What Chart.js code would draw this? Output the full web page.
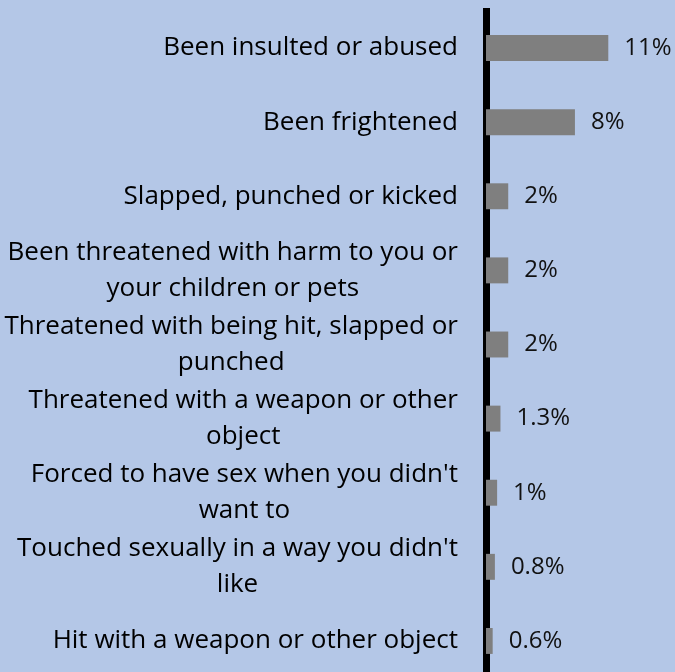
<!DOCTYPE html>
<html>
<head>
<meta charset="utf-8">
<script src="https://cdn.jsdelivr.net/npm/chart.js@4"></script>
<style>
  html, body { margin: 0; padding: 0; background: #b4c7e7; overflow: hidden; }
  canvas { display: block; }
</style>
</head>
<body>
<canvas id="chart" width="675" height="678"></canvas>
<script>
"use strict";

const categories = [
    ['Been insulted or abused'],
    ['Been frightened'],
    ['Slapped, punched or kicked'],
    ['Been threatened with harm to you or', 'your children or pets'],
    ['Threatened with being hit, slapped or', 'punched'],
    ['Threatened with a weapon or other', 'object'],
    ["Forced to have sex when you didn't", 'want to'],
    ["Touched sexually in a way you didn't", 'like'],
    ['Hit with a weapon or other object']
];
const values = [11, 8, 2, 2, 2, 1.3, 1, 0.8, 0.6];
const valueLabels = ['11%', '8%', '2%', '2%', '2%', '1.3%', '1%', '0.8%', '0.6%'];

const FONT = '"Open Sans", Lato, sans-serif';

// category labels: block right aligned to the axis, lines centred within the block
const categoryLabelPlugin = {
    id: 'categoryLabels',
    afterDraw(chart) {
        const ctx = chart.ctx;
        const yScale = chart.scales.y;
        const lineHeight = 36;
        ctx.save();
        ctx.font = '26px ' + FONT;
        ctx.fillStyle = '#000000';
        ctx.textAlign = 'center';
        ctx.textBaseline = 'middle';
        categories.forEach((lines, i) => {
            const y = yScale.getPixelForTick(i);
            const w = Math.max(...lines.map(l => ctx.measureText(l).width));
            const cx = yScale.right - 28 - w / 2;
            const y0 = y - (lines.length - 1) * lineHeight / 2;
            lines.forEach((line, j) => ctx.fillText(line, cx, y0 + j * lineHeight));
        });
        ctx.restore();
    }
};

// draws the percentage next to the end of each bar
const valueLabelPlugin = {
    id: 'valueLabels',
    afterDatasetsDraw(chart) {
        const ctx = chart.ctx;
        const meta = chart.getDatasetMeta(0);
        ctx.save();
        ctx.font = '24px ' + FONT;
        ctx.fillStyle = '#111111';
        ctx.textAlign = 'left';
        ctx.textBaseline = 'middle';
        meta.data.forEach((bar, i) => {
            ctx.fillText(valueLabels[i], bar.x + 16, bar.y);
        });
        ctx.restore();
    }
};

new Chart(document.getElementById('chart').getContext('2d'), {
    type: 'bar',
    data: {
        labels: categories,
        datasets: [{
            data: values,
            backgroundColor: '#7f7f7f',
            borderWidth: 0,
            categoryPercentage: 0.35,
            barPercentage: 1
        }]
    },
    options: {
        indexAxis: 'y',
        responsive: false,
        animation: false,
        layout: { padding: { top: 11, right: 0, bottom: 0, left: 0 } },
        plugins: {
            legend: { display: false },
            tooltip: { enabled: false }
        },
        scales: {
            x: {
                display: false,
                min: 0,
                max: 17
            },
            y: {
                z: 1,
                afterFit(scale) {
                    scale.width = 486;
                    scale.paddingTop = 0;
                    scale.paddingBottom = 0;
                },
                grid: { display: false, drawTicks: false },
                border: { display: true, color: '#000000', width: 7 },
                ticks: { display: false, autoSkip: false }
            }
        }
    },
    plugins: [valueLabelPlugin, categoryLabelPlugin]
});
</script>
</body>
</html>
